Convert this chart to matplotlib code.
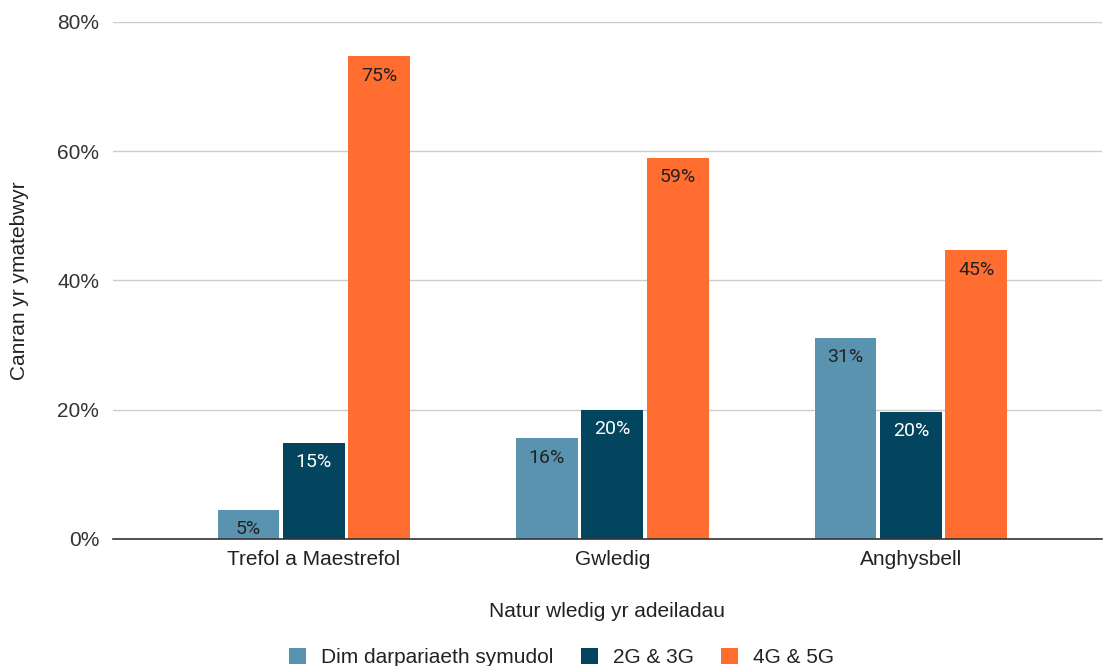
import matplotlib.pyplot as plt
import numpy as np

categories = ['Trefol a Maestrefol', 'Gwledig', 'Anghysbell']
series_names = ['Dim darpariaeth symudol', '2G & 3G', '4G & 5G']
values = [
    [4.5, 15.6, 31.1],   # Dim darpariaeth symudol
    [14.9, 20.0, 19.7],  # 2G & 3G
    [74.7, 59.0, 44.7],  # 4G & 5G
]
labels = [
    ['5%', '16%', '31%'],
    ['15%', '20%', '20%'],
    ['75%', '59%', '45%'],
]
colors = ['#5a93b0', '#03445f', '#ff6d31']
label_colors = ['#222222', '#ffffff', '#222222']
yticks = [0, 20, 40, 60, 80]

axis_font = 'Liberation Sans'
value_font = 'Roboto'
fs = 15

fig = plt.figure(figsize=(11.03, 6.66), dpi=100)
ax = fig.add_axes([0.1024, 0.1907, 0.8966, 0.7763])

x = np.arange(len(categories))
width = 0.207
step = 0.219

for i, name in enumerate(series_names):
    pos = x + (i - 1) * step
    bars = ax.bar(pos, values[i], width, color=colors[i], label=name, zorder=3)
    for b, lab in zip(bars, labels[i]):
        ax.annotate(lab, (b.get_x() + b.get_width() / 2, b.get_height()),
                    xytext=(0, -14), textcoords='offset points',
                    ha='center', va='center', fontsize=14,
                    family=value_font, color=label_colors[i], zorder=4)

ax.set_xlim(-0.673, 2.64)
ax.set_ylim(0, 80)
ax.set_yticks(yticks)
ax.set_yticklabels([f'{t}%' for t in yticks], family=axis_font, fontsize=fs, color='#333333')
ax.set_xticks(x)
ax.set_xticklabels(categories, family=axis_font, fontsize=fs, color='#222222')
ax.tick_params(axis='y', length=0, pad=10)
ax.tick_params(axis='x', length=0, pad=8)

ax.grid(axis='y', color='#cccccc', linewidth=1, zorder=0)
for s in ['top', 'right', 'left']:
    ax.spines[s].set_visible(False)
ax.spines['bottom'].set_color('#333333')
ax.spines['bottom'].set_linewidth(1.2)
ax.spines['bottom'].set_zorder(5)

ax.set_ylabel('Canran yr ymatebwyr', family=axis_font, fontsize=fs, color='#222222', labelpad=20)
ax.set_xlabel('Natur wledig yr adeiladau', family=axis_font, fontsize=fs, color='#222222', labelpad=24)

handles, names = ax.get_legend_handles_labels()
leg = fig.legend(handles, names, loc='center', bbox_to_anchor=(0.509, 0.013), ncol=3, frameon=False,
                 prop={'family': axis_font, 'size': fs}, handlelength=0.85, handleheight=0.85,
                 columnspacing=1.3, handletextpad=0.7)
for t in leg.get_texts():
    t.set_color('#222222')

fig.savefig('out.png', dpi=100)
